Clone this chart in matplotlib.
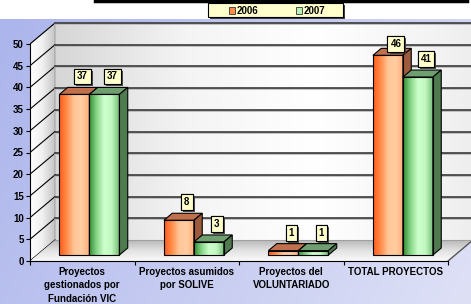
import numpy as np
import matplotlib
matplotlib.use('Agg')
import matplotlib.pyplot as plt
from matplotlib.patches import Polygon, Rectangle
from matplotlib.lines import Line2D
from matplotlib.colors import LinearSegmentedColormap
import matplotlib.patheffects as pe

# ---------------- data ----------------
categories = ["Proyectos\ngestionados por\nFundación VIC",
              "Proyectos asumidos\npor SOLIVE",
              "Proyectos del\nVOLUNTARIADO",
              "TOTAL PROYECTOS"]
series_names = ["2006", "2007"]
values_2006 = [37, 8, 1, 46]
values_2007 = [37, 3, 1, 41]
y_ticks = [0, 5, 10, 15, 20, 25, 30, 35, 40, 45, 50]

# ---------------- style / layout ----------------
plt.rcParams['font.family'] = ['Liberation Sans', 'DejaVu Sans']
plt.rcParams['font.weight'] = 'bold'

W, H = 471, 304
fig = plt.figure(figsize=(W / 100, H / 100), dpi=100)

PX_X = 104.5      # px per category unit
PX_Y = 4.34       # px per value unit
DX = 25 / PX_X    # depth offset (x) for full depth
DV = 21 / PX_Y    # depth offset (value) for full depth
ZF, ZB = 0.286, 0.62
BW = 0.287

front_cols = {
    0: ['#ff5a1a', '#ff8a48', '#ffc596', '#ffcda2', '#ffb07c'],
    1: ['#2f8a2f', '#86d486', '#ccffcc', '#c2f7c2', '#78c078'],
}
top_cols = {0: '#c0704c', 1: '#6f9e6f'}
side_cols = {0: '#9e5a3c', 1: '#4f7c4f'}

# ---------------- background ----------------
bg = fig.add_axes([0, 0, 1, 1])
bg.set_axis_off()
bg.set_xlim(0, W)
bg.set_ylim(H, 0)
nx, ny = 200, 100
gx = np.linspace(0, 1, nx)[None, :]
gy = np.linspace(0, 1, ny)[:, None]
t = np.clip(0.75 * gx + 0.25 * gy, 0, 1)
c0 = np.array([172, 181, 236]) / 255
c1 = np.array([222, 225, 246]) / 255
img = c0[None, None, :] * (1 - t[..., None]) + c1[None, None, :] * t[..., None]
bg.imshow(img, extent=(0, W, H, 19), aspect='auto', interpolation='bilinear')
bg.set_xlim(0, W)
bg.set_ylim(H, 0)

# ---------------- main axes ----------------
ax = fig.add_axes([30 / W, (H - 261) / H, (W - 30) / W, (261 - 19) / H])
ax.set_facecolor('none')
XMAX = (W - 30) / PX_X
YMAX = (261 - 19) / PX_Y


def grad_fill(verts, colors, horizontal=True, zorder=1, patch=None):
    if patch is None:
        patch = Polygon(verts, closed=True, facecolor='none', edgecolor='none', zorder=zorder)
        ax.add_patch(patch)
    xs = [v[0] for v in verts]
    ys = [v[1] for v in verts]
    cmap = LinearSegmentedColormap.from_list('g', colors)
    g = np.linspace(0, 1, 256)
    im_data = g[None, :] if horizontal else g[:, None]
    im = ax.imshow(im_data, cmap=cmap, extent=(min(xs), max(xs), min(ys), max(ys)),
                   origin='lower', aspect='auto', interpolation='bilinear', zorder=zorder)
    im.set_clip_path(patch)
    return im


# back wall
back = [(DX, DV), (XMAX + 1, DV), (XMAX + 1, 50 + DV), (DX, 50 + DV)]
grad_fill(back, ['#d6d6d6', '#f4f4f4', '#ffffff', '#f2f2f2', '#dedede'], True, zorder=1)
for v in y_ticks[1:]:
    ax.plot([DX, XMAX + 1], [v + DV - 0.25, v + DV - 0.25], color='#b8b8b8', lw=1.2, zorder=1.4)
    ax.plot([DX, XMAX + 1], [v + DV, v + DV], color='#3a3a3a', lw=1.2, zorder=1.5)

# side wall
side = [(0, 0), (DX, DV), (DX, 50 + DV), (0, 50)]
grad_fill(side, ['#ffffff', '#f0f0f0', '#c4c4c4'], True, zorder=1.1)
ax.add_patch(Polygon(side, closed=True, facecolor='none', edgecolor='#9a9a9a', lw=0.6, zorder=1.15))
for v in y_ticks:
    ax.plot([0, DX], [v, v + DV], color='black', lw=0.8, zorder=1.2)

# floor
floor = [(0, 0), (4, 0), (4 + DX, DV), (DX, DV)]
grad_fill(floor, ['#fafafa', '#e2e2e2', '#b8b8b8'], False, zorder=1.3)
ax.plot([4, 4 + DX], [0, DV], color='#555555', lw=1.0, zorder=1.35)
ax.plot([DX, XMAX + 1], [DV, DV], color='#a0a0a0', lw=0.8, zorder=1.35)

# ---------------- bars ----------------
centers = np.arange(len(categories)) + 0.5
series = [values_2006, values_2007]
for j, vals in enumerate(series):
    x0s = centers - BW + j * BW + ZF * DX
    bars = ax.bar(x0s, vals, width=BW, bottom=ZF * DV, align='edge',
                  facecolor='none', edgecolor='black', linewidth=0.8)
    for i, (rect, val) in enumerate(zip(bars, vals)):
        zo = 3 + i * 0.2 + j * 0.1
        rect.set_zorder(zo + 0.02)
        x0 = x0s[i] - ZF * DX
        x1 = x0 + BW
        fv = [(x0 + ZF * DX, ZF * DV), (x1 + ZF * DX, ZF * DV),
              (x1 + ZF * DX, val + ZF * DV), (x0 + ZF * DX, val + ZF * DV)]
        grad_fill(fv, front_cols[j], True, zorder=zo, patch=rect)
        top = [(x0 + ZF * DX, val + ZF * DV), (x1 + ZF * DX, val + ZF * DV),
               (x1 + ZB * DX, val + ZB * DV), (x0 + ZB * DX, val + ZB * DV)]
        sidef = [(x1 + ZF * DX, ZF * DV), (x1 + ZB * DX, ZB * DV),
                 (x1 + ZB * DX, val + ZB * DV), (x1 + ZF * DX, val + ZF * DV)]
        ax.add_patch(Polygon(top, closed=True, facecolor=top_cols[j], edgecolor='black',
                             lw=0.8, zorder=zo + 0.01))
        ax.add_patch(Polygon(sidef, closed=True, facecolor=side_cols[j], edgecolor='black',
                             lw=0.8, zorder=zo + 0.01))
        # data label
        lx = x0 + ZF * DX + BW / 2 + 8 / PX_X
        lv = min(val + ZB * DV, 47.5)
        ann = ax.annotate(str(val), xy=(lx, lv), xytext=(0, 4.3), textcoords='offset points',
                          ha='center', va='bottom', fontsize=7, fontweight='bold',
                          bbox=dict(boxstyle='square,pad=0.3', fc='#ffffcc', ec='black', lw=0.8),
                          zorder=10)
        ann.get_bbox_patch().set_path_effects(
            [pe.withSimplePatchShadow(offset=(1.5, -1.5), shadow_rgbFace='#404040', alpha=0.9),
             pe.Normal()])

# ---------------- axes cosmetics ----------------
ax.set_xlim(0, XMAX)
ax.set_ylim(0, YMAX)
for s in ['top', 'right']:
    ax.spines[s].set_visible(False)
ax.spines['left'].set_bounds(0, 50)
ax.spines['bottom'].set_bounds(0, 4)
ax.spines['left'].set_zorder(5)
ax.spines['bottom'].set_zorder(5)
ax.set_yticks(y_ticks)
ax.set_yticklabels([str(v) for v in y_ticks])
ax.tick_params(axis='y', length=3, width=0.8, labelsize=7, pad=1.5, direction='out')
ax.set_xticks([0, 1, 2, 3, 4])
ax.set_xticklabels([])
ax.tick_params(axis='x', which='major', length=3, width=0.8, direction='out')
ax.set_xticks(centers, minor=True)
ax.set_xticklabels(categories, minor=True)
ax.tick_params(axis='x', which='minor', length=0, labelsize=7, pad=4)
for lab in ax.get_xticklabels(minor=True):
    lab.set_linespacing(1.45)
    lab.set_fontweight('bold')
for lab in ax.get_yticklabels():
    lab.set_fontweight('bold')

# ---------------- legend (manual) ----------------
def fx(x):
    return x / W


def fy(y):
    return 1 - y / H


lw_, lh_ = 135, 14
fig.add_artist(Rectangle((fx(210), fy(19)), lw_ / W, lh_ / H, transform=fig.transFigure,
                         facecolor='#404040', edgecolor='none', zorder=20))
fig.add_artist(Rectangle((fx(208), fy(17)), lw_ / W, lh_ / H, transform=fig.transFigure,
                         facecolor='#ffffcc', edgecolor='black', lw=0.8, zorder=21))
leg_x = [229, 296]
leg_fill = ['#ff8a50', '#b8f0b8']
for k, name in enumerate(series_names):
    fig.add_artist(Rectangle((fx(leg_x[k]), fy(13.5)), 6 / W, 6 / H, transform=fig.transFigure,
                             facecolor=leg_fill[k], edgecolor='#333333', lw=0.6, zorder=22))
    fig.text(fx(leg_x[k] + 8), fy(10.5), name, fontsize=7, fontweight='bold',
             ha='left', va='center', zorder=22)

# top black line
fig.add_artist(Line2D([fx(95), fx(467)], [fy(1), fy(1)], lw=2.5, color='black',
                      transform=fig.transFigure, zorder=22))

fig.savefig('out.png', dpi=100)
